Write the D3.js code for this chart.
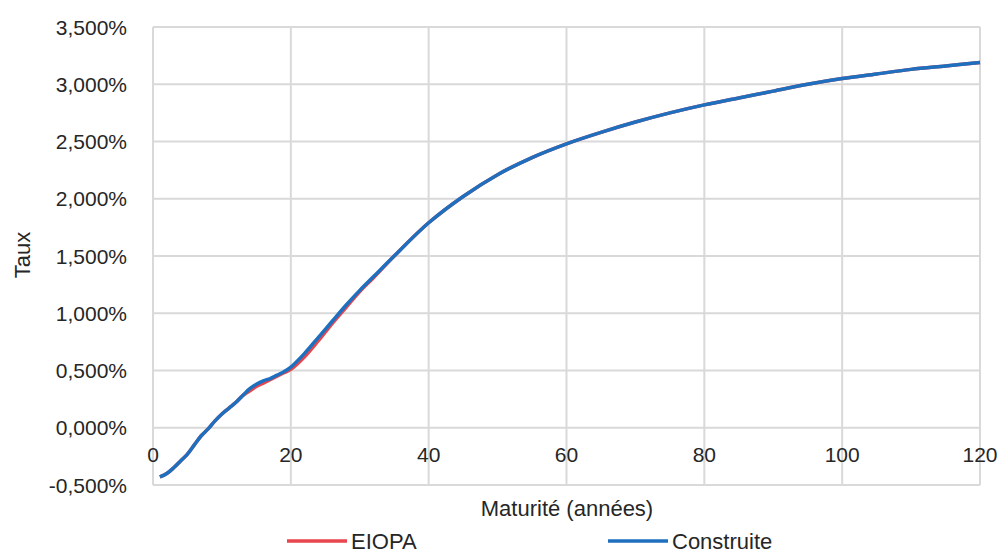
<!DOCTYPE html>
<html>
<head>
<meta charset="utf-8">
<script src="https://cdn.jsdelivr.net/npm/d3@7"></script>
<style>
  body { margin: 0; background: #fff; }
  text { font-family: "Liberation Sans", "DejaVu Sans", sans-serif; fill: #262626; }
</style>
</head>
<body>
<div class="canvas"></div>
<script>
// data (taux en %)
const maturities = [1, 2, 3, 4, 5, 6, 7, 8, 9, 10, 11, 12, 13, 14, 15, 16, 17, 18, 19, 20,
  22, 24, 26, 28, 30, 32, 35, 40, 45, 50, 55, 60, 65, 70, 75, 80, 85, 90, 95, 100, 105, 110, 115, 120];
const eiopa = [-0.43, -0.40, -0.35, -0.29, -0.23, -0.15, -0.07, -0.01, 0.06, 0.12, 0.17, 0.22, 0.28, 0.32, 0.36, 0.39, 0.42, 0.45, 0.48, 0.51,
  0.62, 0.76, 0.91, 1.05, 1.19, 1.31, 1.50, 1.79, 2.02, 2.21, 2.36, 2.48, 2.58, 2.67, 2.75, 2.82, 2.88, 2.94, 3.00, 3.05, 3.09, 3.13, 3.16, 3.19];
const construite = [-0.43, -0.40, -0.35, -0.29, -0.23, -0.15, -0.07, -0.01, 0.06, 0.12, 0.17, 0.22, 0.28, 0.34, 0.38, 0.41, 0.43, 0.46, 0.49, 0.53,
  0.65, 0.79, 0.93, 1.07, 1.20, 1.32, 1.50, 1.79, 2.02, 2.21, 2.36, 2.48, 2.58, 2.67, 2.75, 2.82, 2.88, 2.94, 3.00, 3.05, 3.09, 3.13, 3.16, 3.19];
const xTicks = [0, 20, 40, 60, 80, 100, 120];
const yTicks = [-0.5, 0, 0.5, 1, 1.5, 2, 2.5, 3, 3.5];
const seriesNames = ['EIOPA', 'Construite'];
const seriesColors = ['#e8464e', '#1f6fbf'];

// margins
const width = 1003, height = 553;
const margin = {top: 27, right: 23, bottom: 68, left: 153};

const svg = d3.select('.canvas').append('svg')
    .attr('width', width)
    .attr('height', height);

// scales
const x = d3.scaleLinear().domain([0, 120]).range([margin.left, width - margin.right]);
const y = d3.scaleLinear().domain([-0.5, 3.5]).range([height - margin.bottom, margin.top]);

// gridlines
svg.append('g').selectAll('line').data(yTicks).join('line')
    .attr('x1', x(0)).attr('x2', x(120))
    .attr('y1', d => y(d)).attr('y2', d => y(d))
    .attr('stroke', '#d9d9d9').attr('stroke-width', 2);
svg.append('g').selectAll('line').data(xTicks).join('line')
    .attr('x1', d => x(d)).attr('x2', d => x(d))
    .attr('y1', y(3.5)).attr('y2', y(-0.5))
    .attr('stroke', '#d9d9d9').attr('stroke-width', 2);

// y axis labels, french format with plain hyphen
const fmt = d => (d < 0 ? '-' : '') + d3.format('.3f')(Math.abs(d)).replace('.', ',') + '%';
svg.append('g').selectAll('text').data(yTicks).join('text')
    .attr('x', 127).attr('y', d => y(d))
    .attr('dy', '0.36em')
    .attr('text-anchor', 'end')
    .style('font-size', '21px')
    .text(fmt);

// x axis labels (axis crosses at 0%)
svg.append('g').selectAll('text').data(xTicks).join('text')
    .attr('x', d => x(d)).attr('y', y(0) + 34)
    .attr('text-anchor', 'middle')
    .style('font-size', '21px')
    .text(d => d);

// axis titles
svg.append('text')
    .attr('x', 567).attr('y', 516)
    .attr('text-anchor', 'middle')
    .style('font-size', '22px')
    .text('Maturité (années)');
svg.append('text')
    .attr('transform', `translate(30, 255) rotate(-90)`)
    .attr('text-anchor', 'middle')
    .style('font-size', '22px')
    .text('Taux');

// lines
const line = d3.line()
    .x((d, i) => x(maturities[i]))
    .y(d => y(d))
    .curve(d3.curveCatmullRom.alpha(0.5));

[eiopa, construite].forEach((s, i) => {
  svg.append('path')
      .attr('d', line(s))
      .attr('fill', 'none')
      .attr('stroke', seriesColors[i])
      .attr('stroke-width', 3.5)
      .attr('stroke-linejoin', 'round');
});

// legend
const legendX = [287, 608];
const legend = svg.append('g').selectAll('g').data(seriesNames).join('g')
    .attr('transform', (d, i) => `translate(${legendX[i]}, 541)`);
legend.append('line')
    .attr('x1', 0).attr('x2', 60)
    .attr('stroke', (d, i) => seriesColors[i])
    .attr('stroke-width', 3.5);
legend.append('text')
    .attr('x', 64).attr('dy', '0.36em')
    .style('font-size', '22px')
    .text(d => d);
</script>
</body>
</html>
